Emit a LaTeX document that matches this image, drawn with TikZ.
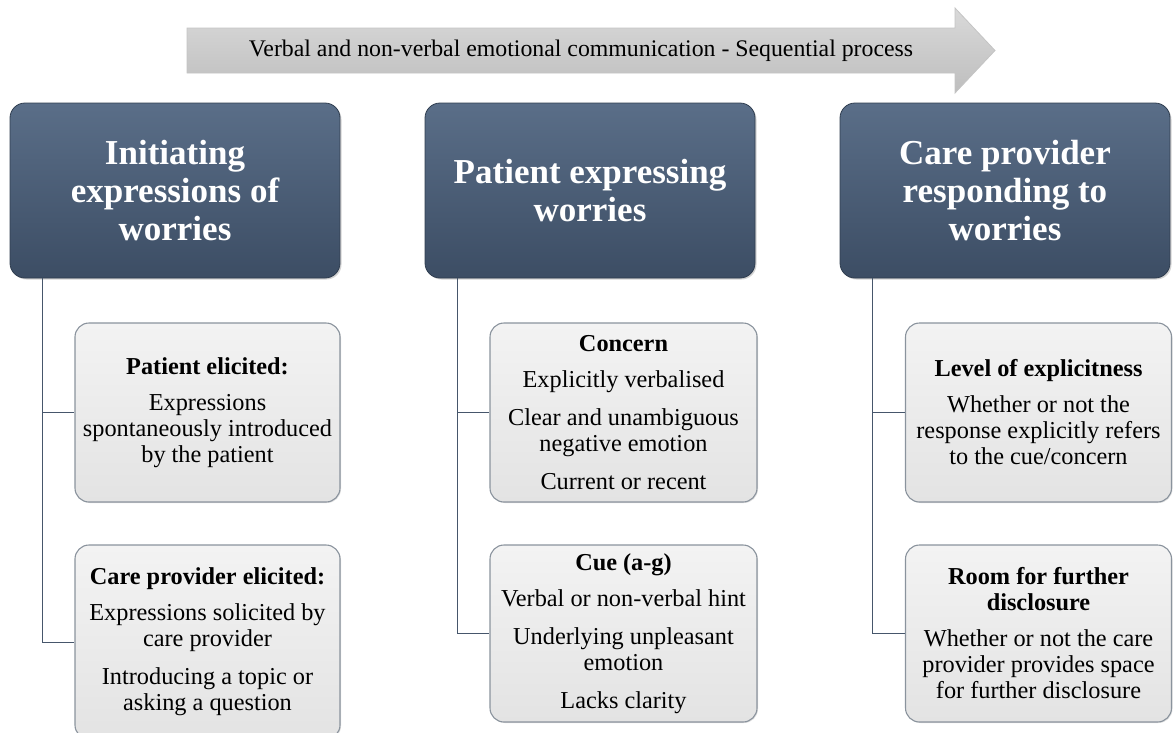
\documentclass[tikz,border=0pt]{standalone}
\usepackage{fontspec}
\setmainfont{Liberation Serif}
\usetikzlibrary{shadows}
\definecolor{hdrtop}{HTML}{5A6E88}
\definecolor{hdrbot}{HTML}{3C4D64}
\definecolor{boxtop}{HTML}{F3F3F3}
\definecolor{boxbot}{HTML}{E3E3E3}
\definecolor{boxedge}{HTML}{8A939D}
\definecolor{linkcol}{HTML}{46566B}
\definecolor{arrtop}{HTML}{D9D9D9}
\definecolor{arrbot}{HTML}{BEBEBE}
\definecolor{arredge}{HTML}{C4C4C4}
\tikzset{
  header/.style={rounded corners=15, top color=hdrtop, bottom color=hdrbot,
    draw=hdrbot!80!black, line width=0.8pt, minimum width=330, minimum height=175,
    text=white, align=center, font=\fontsize{35}{38}\selectfont\bfseries,
    drop shadow={shadow xshift=1.5pt, shadow yshift=-1.5pt, opacity=0.35}},
  detail/.style={rounded corners=14, top color=boxtop, bottom color=boxbot,
    draw=boxedge, line width=1.1pt, align=center,
    font=\fontsize{24.3}{26}\selectfont,
    drop shadow={shadow xshift=1pt, shadow yshift=-1pt, opacity=0.25}},
  link/.style={draw=linkcol, line width=0.9pt},
}
\begin{document}
\begin{tikzpicture}[x=1pt, y=-1pt]
\useasboundingbox (0,0) rectangle (1173,732);

% process arrow across the top
\shade[top color=arrtop, bottom color=arrbot, draw=arredge, line width=0.8pt]
  (187,28) -- (955,28) -- (955,8) -- (995,50.5) -- (955,93) -- (955,73) -- (187,73) -- cycle;
\node[font=\fontsize{23.8}{26}\selectfont] (proc) at (581,50.5)
  {Verbal and non-verbal emotional communication - Sequential process};

% column headers
\node[header] (h1) at (175,190.5) {Initiating\\expressions of\\worries};
\node[header] (h2) at (590,190.5) {Patient expressing\\worries};
\node[header] (h3) at (1005,190.5) {Care provider\\responding to\\worries};

% detail boxes
\node[detail, minimum width=265, minimum height=179] (c1a) at (207.5,412.5)
  {\textbf{Patient elicited:}\\[10pt]Expressions\\spontaneously introduced\\by the patient};
\node[detail, minimum width=265, minimum height=194] (c1b) at (207.5,642)
  {\textbf{Care provider elicited:}\\[10pt]Expressions solicited by\\care provider\\[12pt]Introducing a topic or\\asking a question};
\node[detail, minimum width=267, minimum height=179] (c2a) at (623.5,412.5)
  {\textbf{Concern}\\[10pt]Explicitly verbalised\\[12pt]Clear and unambiguous\\negative emotion\\[12pt]Current or recent};
\node[detail, minimum width=267, minimum height=177] (c2b) at (623.5,633.5)
  {\textbf{Cue (a-g)}\\[10pt]Verbal or non-verbal hint\\[12pt]Underlying unpleasant\\emotion\\[12pt]Lacks clarity};
\node[detail, minimum width=266, minimum height=179] (c3a) at (1038.5,412.5)
  {\textbf{Level of explicitness}\\[10pt]Whether or not the\\response explicitly refers\\to the cue/concern};
\node[detail, minimum width=266, minimum height=177] (c3b) at (1038.5,633.5)
  {\textbf{Room for further}\\\textbf{disclosure}\\[10pt]Whether or not the care\\provider provides space\\for further disclosure};

% tree connectors
\coordinate (t1) at ([xshift=33]h1.south west);
\coordinate (t2) at ([xshift=33]h2.south west);
\coordinate (t3) at ([xshift=33]h3.south west);
\draw[link] (t1) |- (c1a.west);
\draw[link] (t1) |- (c1b.west);
\draw[link] (t2) |- (c2a.west);
\draw[link] (t2) |- (c2b.west);
\draw[link] (t3) |- (c3a.west);
\draw[link] (t3) |- (c3b.west);
\end{tikzpicture}
\end{document}
